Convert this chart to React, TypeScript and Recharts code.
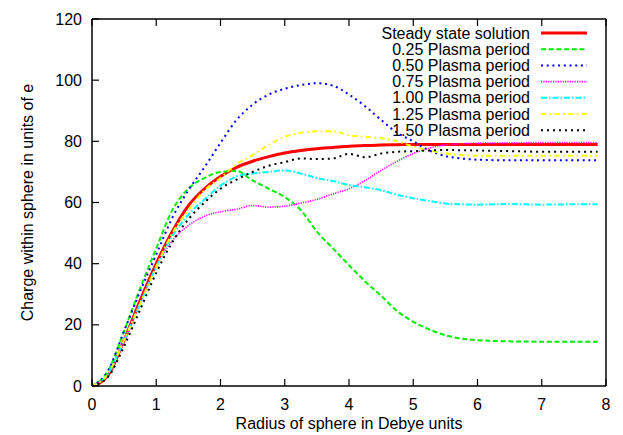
import React from 'react';
import { LineChart, Line, XAxis, YAxis } from 'recharts';

// Radius of sphere (Debye units)
const radius = [0, 0.25, 0.5, 0.75, 1, 1.25, 1.5, 1.75, 2, 2.25, 2.5, 2.75, 3, 3.25, 3.5, 3.75, 4, 4.25, 4.5, 4.75, 5, 5.25, 5.5, 5.75, 6, 6.5, 7, 7.5, 7.87];

// Charge within sphere (units of e)
const steadyState = [0, 3.5, 15, 28, 40, 50.5, 59, 64.5, 68.5, 71.5, 73.5, 75, 76.2, 77, 77.6, 78, 78.4, 78.6, 78.8, 78.9, 79, 79, 79, 79, 79, 79, 79, 79, 79];
const period025 = [0, 5, 18, 32, 45, 57.5, 64.5, 68, 70, 70.3, 67.2, 64.5, 61.8, 57.5, 50.5, 45, 39.5, 34.2, 29.5, 24.5, 21, 18.5, 16.6, 15.5, 15, 14.6, 14.5, 14.5, 14.5];
const period050 = [0, 5, 18, 31, 43, 55, 64, 71.5, 79.5, 87, 92, 95.3, 97.2, 98.4, 99, 98.2, 95.3, 91.5, 87, 82.8, 80, 77, 75.2, 74.4, 74, 73.8, 73.8, 73.8, 73.8];
const period075 = [0, 4, 14.5, 27, 39, 47.5, 52.5, 55.5, 57, 57.8, 59, 58.5, 58.8, 59.8, 61, 62.8, 64.5, 67.2, 70.5, 73.5, 76, 77.8, 78.8, 79.2, 79.4, 79.5, 79.6, 79.6, 79.6];
const period100 = [0, 4, 15, 27, 39, 49, 56, 61, 65.5, 68.5, 69.5, 70, 70.5, 69.5, 68, 67, 65.7, 65, 64, 62.5, 61.4, 60.5, 59.7, 59.4, 59.3, 59.5, 59.3, 59.4, 59.4];
const period125 = [0, 4, 15, 27, 39, 50, 57.5, 64, 68, 72.5, 75.5, 78.8, 81.5, 82.8, 83.3, 83.3, 82, 81.5, 81, 80, 78.3, 77, 76, 75.5, 75.3, 75.3, 75.3, 75.3, 75.3];
const period150 = [0, 3, 13, 25, 37, 47, 54.5, 60, 64.5, 67.5, 70, 72, 73.2, 74.4, 74.2, 74.4, 75.9, 74.8, 76, 76.6, 76.8, 77, 77.2, 77.1, 77, 76.8, 76.6, 76.6, 76.6];

const seriesNames = [
  'Steady state solution',
  '0.25 Plasma period',
  '0.50 Plasma period',
  '0.75 Plasma period',
  '1.00 Plasma period',
  '1.25 Plasma period',
  '1.50 Plasma period',
];

const xTicks = [0, 1, 2, 3, 4, 5, 6, 7, 8];
const yTicks = [0, 20, 40, 60, 80, 100, 120];
const xTitle = 'Radius of sphere in Debye units';
const yTitle = 'Charge within sphere in units of e';

const FONT = '"Liberation Sans", Arial, Helvetica, sans-serif';

const series = [
  { key: 's0', name: seriesNames[0], values: steadyState, color: '#ff0000', width: 3, dash: undefined as string | undefined },
  { key: 's1', name: seriesNames[1], values: period025, color: '#00ee00', width: 2, dash: '5 2.7' },
  { key: 's2', name: seriesNames[2], values: period050, color: '#0000ff', width: 2, dash: '2 3.7' },
  { key: 's3', name: seriesNames[3], values: period075, color: '#ff00ff', width: 1.6, dash: '1.2 1.2' },
  { key: 's4', name: seriesNames[4], values: period100, color: '#00ffff', width: 2, dash: '6 2 1.5 2' },
  { key: 's5', name: seriesNames[5], values: period125, color: '#ffff00', width: 2, dash: '5.3 3.3 1.7 3.3' },
  { key: 's6', name: seriesNames[6], values: period150, color: '#000000', width: 2, dash: '2 4' },
];

const data = radius.map((x, i) => {
  const row: any = { x };
  series.forEach((s) => {
    row[s.key] = s.values[i];
  });
  return row;
});

const TICK = 7;

const BottomTick = (props: any) => {
  const { x, y, payload } = props;
  return (
    <g>
      <line x1={x} y1={y} x2={x} y2={y - TICK} stroke="#000" strokeWidth={1.2} />
      <text x={x} y={y + 24} textAnchor="middle" fontFamily={FONT} fontSize={16} fill="#000">
        {payload.value}
      </text>
    </g>
  );
};

const LeftTick = (props: any) => {
  const { x, y, payload } = props;
  return (
    <g>
      <line x1={x} y1={y} x2={x + TICK} y2={y} stroke="#000" strokeWidth={1.2} />
      <text x={x - 10} y={y + 5.5} textAnchor="end" fontFamily={FONT} fontSize={16} fill="#000">
        {payload.value}
      </text>
    </g>
  );
};

const TopTick = (props: any) => {
  const { x, y } = props;
  return <line x1={x} y1={y} x2={x} y2={y + TICK} stroke="#000" strokeWidth={1.2} />;
};

const RightTick = (props: any) => {
  const { x, y } = props;
  return <line x1={x} y1={y} x2={x - TICK} y2={y} stroke="#000" strokeWidth={1.2} />;
};

const axisLine = { stroke: '#000', strokeWidth: 1.5 };

export default function App() {
  return (
    <div style={{ position: 'absolute', left: 0, top: 0, width: 623, height: 435, background: '#fff' }}>
      <LineChart width={623} height={435} data={data} margin={{ top: 18, right: 16, bottom: 48, left: 91 }}>
        <XAxis
          dataKey="x"
          type="number"
          domain={[0, 8]}
          ticks={xTicks}
          interval={0}
          height={1}
          tickSize={0}
          tickMargin={0}
          tickLine={false}
          axisLine={axisLine}
          tick={<BottomTick />}
          allowDataOverflow
        />
        <XAxis
          xAxisId="top"
          orientation="top"
          dataKey="x"
          type="number"
          domain={[0, 8]}
          ticks={xTicks}
          interval={0}
          height={1}
          tickSize={0}
          tickMargin={0}
          tickLine={false}
          axisLine={axisLine}
          tick={<TopTick />}
        />
        <YAxis
          type="number"
          domain={[0, 120]}
          ticks={yTicks}
          interval={0}
          width={1}
          tickSize={0}
          tickMargin={0}
          tickLine={false}
          axisLine={axisLine}
          tick={<LeftTick />}
          allowDataOverflow
        />
        <YAxis
          yAxisId="right"
          orientation="right"
          type="number"
          domain={[0, 120]}
          ticks={yTicks}
          interval={0}
          width={1}
          tickSize={0}
          tickMargin={0}
          tickLine={false}
          axisLine={axisLine}
          tick={<RightTick />}
        />
        {series.map((s) => (
          <Line
            key={s.key}
            dataKey={s.key}
            name={s.name}
            type="monotone"
            stroke={s.color}
            strokeWidth={s.width}
            strokeDasharray={s.dash}
            dot={false}
            activeDot={false}
            isAnimationActive={false}
          />
        ))}
      </LineChart>
      <svg
        width={623}
        height={435}
        style={{ position: 'absolute', left: 0, top: 0, pointerEvents: 'none' }}
      >
        <text x={349} y={429} textAnchor="middle" fontFamily={FONT} fontSize={16} fill="#000">
          {xTitle}
        </text>
        <text
          x={0}
          y={0}
          transform="translate(33,202.5) rotate(-90)"
          textAnchor="middle"
          fontFamily={FONT}
          fontSize={16}
          fill="#000"
        >
          {yTitle}
        </text>
        {series.map((s, i) => {
          const cy = 33 + i * 16.2;
          return (
            <g key={s.key}>
              <text x={530} y={cy + 5.5} textAnchor="end" fontFamily={FONT} fontSize={16} fill="#000">
                {s.name}
              </text>
              <line
                x1={541}
                y1={cy}
                x2={587}
                y2={cy}
                stroke={s.color}
                strokeWidth={s.width}
                strokeDasharray={s.dash}
              />
            </g>
          );
        })}
      </svg>
    </div>
  );
}
